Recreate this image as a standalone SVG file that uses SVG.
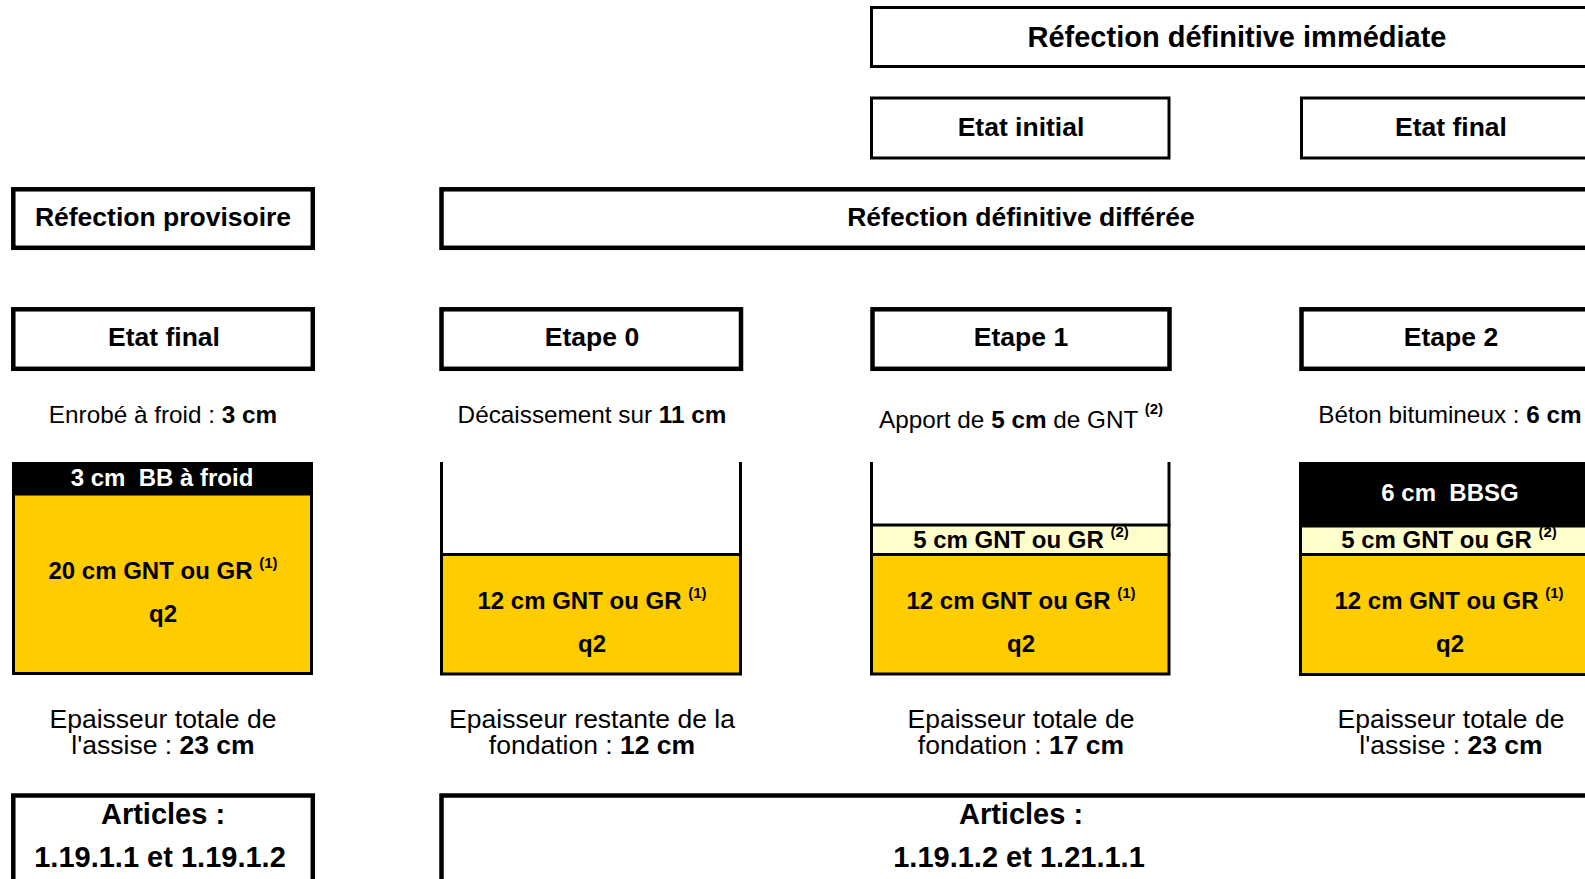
<svg xmlns="http://www.w3.org/2000/svg" width="1585" height="879" viewBox="0 0 1585 879">
<style>
text{font-family:"Liberation Sans",Arial,sans-serif;fill:#000;text-anchor:middle}
.hd{font-size:26.5px;font-weight:bold}
.hdl{font-size:29px;font-weight:bold}
.ds{font-size:24.3px}
.ly{font-size:24px;font-weight:bold}
.ep{font-size:26.5px}
.wt{fill:#fff}
.b{font-weight:bold}
.sup{font-size:15px;font-weight:bold}
.box{fill:#fff;stroke:#000;stroke-width:4.5}
.tbox{fill:#fff;stroke:#000;stroke-width:3}
.yl{fill:#FFCC00;stroke:#000;stroke-width:3}
.lyl{fill:#FFFFCC;stroke:#000;stroke-width:3}
.ln{stroke:#000;stroke-width:3;fill:none}
</style>
<rect width="1585" height="879" fill="#fff"/>

<g id="top-immediate">
<rect class="tbox" x="871.5" y="7.5" width="800" height="59"/>
<text class="hdl" x="1237" y="47">Réfection définitive immédiate</text>
</g>
<g id="top-etat-initial">
<rect class="tbox" x="871.5" y="98" width="297.5" height="60"/>
<text class="hd" x="1021" y="136">Etat initial</text>
</g>
<g id="top-etat-final">
<rect class="tbox" x="1301.5" y="98" width="400" height="60"/>
<text class="hd" x="1451" y="136">Etat final</text>
</g>

<g id="hdr-provisoire">
<rect class="box" x="13.3" y="189.3" width="299.5" height="58.5"/>
<text class="hd" x="163" y="225.5">Réfection provisoire</text>
</g>
<g id="hdr-differee">
<rect class="box" x="441.5" y="189.3" width="1160" height="58.5"/>
<text class="hd" x="1021" y="225.5">Réfection définitive différée</text>
</g>

<g id="col1-etat-final">
<rect class="box" x="13.3" y="309.3" width="299.5" height="59.5"/>
<text class="hd" x="164" y="346">Etat final</text>
<text class="ds" x="163" y="423">Enrobé à froid : <tspan class="b">3 cm</tspan></text>
<rect class="yl" x="13.5" y="494" width="298" height="179.5"/>
<rect x="12" y="462" width="301" height="32" fill="#000"/>
<text class="ly wt" x="162" y="486">3 cm&#160; BB à froid</text>
<text class="ly" x="163" y="579">20 cm GNT ou GR <tspan class="sup" dy="-11">(1)</tspan></text>
<text class="ly" x="163" y="622">q2</text>
<text class="ep" x="163" y="727.5">Epaisseur totale de</text>
<text class="ep" x="163" y="753.5">l'assise : <tspan class="b">23 cm</tspan></text>
</g>

<g id="col2-etape0">
<rect class="box" x="441.5" y="309.3" width="299.5" height="59.5"/>
<text class="hd" x="592" y="346">Etape 0</text>
<text class="ds" x="592" y="423">Décaissement sur <tspan class="b">11 cm</tspan></text>
<line class="ln" x1="441.5" y1="462" x2="441.5" y2="555"/>
<line class="ln" x1="740.5" y1="462" x2="740.5" y2="555"/>
<rect class="yl" x="441.5" y="554.5" width="299" height="119.5"/>
<text class="ly" x="592" y="609">12 cm GNT ou GR <tspan class="sup" dy="-11">(1)</tspan></text>
<text class="ly" x="592" y="652">q2</text>
<text class="ep" x="592" y="727.5">Epaisseur restante de la</text>
<text class="ep" x="592" y="753.5">fondation : <tspan class="b">12 cm</tspan></text>
</g>

<g id="col3-etape1">
<rect class="box" x="872.5" y="309.3" width="297" height="59.5"/>
<text class="hd" x="1021" y="346">Etape 1</text>
<text class="ds" x="1021" y="428">Apport de <tspan class="b">5 cm</tspan> de GNT <tspan class="sup" dy="-14">(2)</tspan></text>
<line class="ln" x1="871.5" y1="462" x2="871.5" y2="526"/>
<line class="ln" x1="1169" y1="462" x2="1169" y2="526"/>
<rect class="lyl" x="871.5" y="525" width="297.5" height="29.5"/>
<rect class="yl" x="871.5" y="554.5" width="297.5" height="119.5"/>
<text class="ly" x="1021" y="547.5">5 cm GNT ou GR <tspan class="sup" dy="-11">(2)</tspan></text>
<text class="ly" x="1021" y="609">12 cm GNT ou GR <tspan class="sup" dy="-11">(1)</tspan></text>
<text class="ly" x="1021" y="652">q2</text>
<text class="ep" x="1021" y="727.5">Epaisseur totale de</text>
<text class="ep" x="1021" y="753.5">fondation : <tspan class="b">17 cm</tspan></text>
</g>

<g id="col4-etape2">
<rect class="box" x="1301.5" y="309.3" width="400" height="59.5"/>
<text class="hd" x="1451" y="346">Etape 2</text>
<text class="ds" x="1450" y="423">Béton bitumineux : <tspan class="b">6 cm</tspan></text>
<rect x="1299" y="462" width="400" height="64" fill="#000"/>
<rect class="lyl" x="1300.5" y="526" width="400" height="28.5"/>
<rect class="yl" x="1300.5" y="554.5" width="400" height="120"/>
<text class="ly wt" x="1450" y="501">6 cm&#160; BBSG</text>
<text class="ly" x="1449" y="547.5">5 cm GNT ou GR <tspan class="sup" dy="-11">(2)</tspan></text>
<text class="ly" x="1449" y="609">12 cm GNT ou GR <tspan class="sup" dy="-11">(1)</tspan></text>
<text class="ly" x="1450" y="652">q2</text>
<text class="ep" x="1451" y="727.5">Epaisseur totale de</text>
<text class="ep" x="1451" y="753.5">l'assise : <tspan class="b">23 cm</tspan></text>
</g>

<g id="articles-1">
<rect class="box" x="13.3" y="795.5" width="299.5" height="200"/>
<text class="hdl" x="163" y="824">Articles :</text>
<text class="hdl" x="160" y="866.5">1.19.1.1 et 1.19.1.2</text>
</g>
<g id="articles-2">
<rect class="box" x="441.5" y="795.5" width="1160" height="200"/>
<text class="hdl" x="1021" y="824">Articles :</text>
<text class="hdl" x="1019" y="866.5">1.19.1.2 et 1.21.1.1</text>
</g>

<g id="connectors"></g>
</svg>
